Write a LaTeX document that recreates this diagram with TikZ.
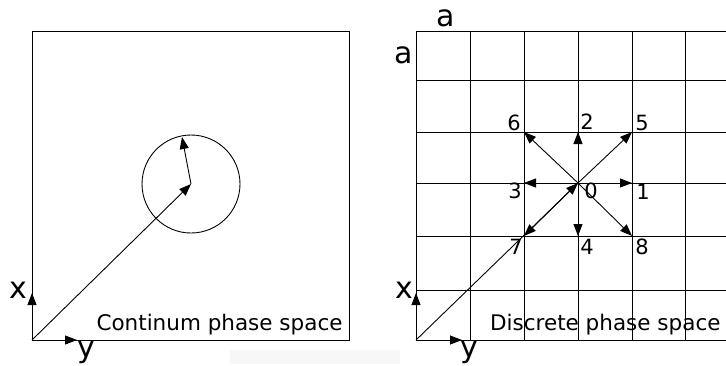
\documentclass[tikz,border=0pt]{standalone}
\usepackage{fontspec}
\setmainfont{DejaVu Sans}
\usetikzlibrary{arrows.meta}

\begin{document}
\begin{tikzpicture}[x=1pt,y=-1pt,
      >={Triangle[length=12pt,width=9pt]},line width=0.9pt,
      axislabel/.style={font=\fontsize{30}{30}\selectfont,anchor=base,inner sep=0pt},
      dirlabel/.style={font=\fontsize{21}{21}\selectfont,anchor=base,inner sep=0pt},
      panelname/.style={font=\fontsize{21.5}{22}\selectfont,anchor=base east,inner sep=0pt}
    ]
    \useasboundingbox (0,0) rectangle (726,365);
    \fill[black!3] (230,350) rectangle (400,364);

    % continuum phase space
    \coordinate (orgA) at (32,340);
    \coordinate (ctr) at (191,184);
    \coordinate (rim) at (182,137);
    \coordinate (xA) at (32,293);
    \coordinate (yA) at (77,340);
    \draw (32,31) rectangle (349,340);
    \draw (ctr) circle[radius=49pt];
    \draw[->] (orgA) -- (ctr);
    \draw[->] (ctr) -- (rim);
    \draw[->] (orgA) -- (xA);
    \draw[->] (orgA) -- (yA);
    \node[axislabel] (xlabA) at (18,298) {x};
    \node[axislabel] (ylabA) at (86,357) {y};
    \node[panelname] (contname) at (343,330) {Continum phase space};

    % discrete phase space
    \foreach \gx in {416,470,524,578,632,685}
      \draw (\gx,31) -- (\gx,340);
    \foreach \gy in {31,80,132,183,236,290,340}
      \draw (416,\gy) -- (726,\gy);
    \coordinate (orgB) at (416,340);
    \coordinate (xB) at (416,293);
    \coordinate (yB) at (462,340);
    \coordinate (n0) at (578,183);
    \coordinate (n1) at (632,183);
    \coordinate (n2) at (578,132);
    \coordinate (n3) at (524,183);
    \coordinate (n4) at (578,236);
    \coordinate (n5) at (632,132);
    \coordinate (n6) at (524,132);
    \coordinate (n7) at (524,236);
    \coordinate (n8) at (632,236);
    \draw[->] (orgB) -- (xB);
    \draw[->] (orgB) -- (yB);
    \draw[->] (orgB) -- (n0);
    \foreach \k in {1,...,8}
      \draw[->] (n0) -- (n\k);
    \node[axislabel] (xlabB) at (404,298) {x};
    \node[axislabel] (ylabB) at (469,357) {y};
    \node[axislabel] (atop) at (446,26) {a};
    \node[axislabel] (aside) at (404,63) {a};
    \node[dirlabel] (l0) at (591,198) {0};
    \node[dirlabel] (l1) at (643,199) {1};
    \node[dirlabel] (l2) at (587,129) {2};
    \node[dirlabel] (l3) at (515,198) {3};
    \node[dirlabel] (l4) at (587,254) {4};
    \node[dirlabel] (l5) at (642,130) {5};
    \node[dirlabel] (l6) at (514,130) {6};
    \node[dirlabel] (l7) at (516,254) {7};
    \node[dirlabel] (l8) at (642,254) {8};
    \node[panelname] (discname) at (721,330) {Discrete phase space};
  \end{tikzpicture}
\end{document}
